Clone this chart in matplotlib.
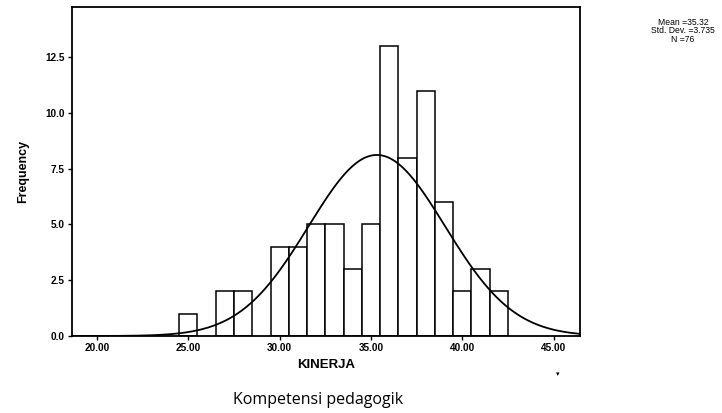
import numpy as np
import matplotlib.pyplot as plt

# ── Data ─────────────────────────────────────────────────────────────
scores = [25, 27, 28, 30, 31, 32, 33, 34, 35, 36, 37, 38, 39, 40, 41, 42]
counts = [1, 2, 2, 4, 4, 5, 5, 3, 5, 13, 8, 11, 6, 2, 3, 2]
mean_val = 35.32
std_val = 3.735
n_val = 76
xticks = [20, 25, 30, 35, 40, 45]
yticks = [0.0, 2.5, 5.0, 7.5, 10.0, 12.5]

plt.rcParams["font.family"] = ["Liberation Sans", "DejaVu Sans"]

fig = plt.figure(figsize=(7.22, 4.13), dpi=100)
fig.patch.set_facecolor("white")
ax = fig.add_axes([0.0997, 0.1864, 0.7033, 0.7966])

ax.bar(scores, counts, width=1.0, color="white", edgecolor="black",
       linewidth=1.1, zorder=2)

# fitted normal curve (bin width 1)
xs = np.linspace(18.63, 46.43, 400)
pdf = n_val / (std_val * np.sqrt(2 * np.pi)) * np.exp(-0.5 * ((xs - mean_val) / std_val) ** 2)
ax.plot(xs, pdf, color="black", linewidth=1.3, zorder=3)

ax.set_xlim(18.63, 46.43)
ax.set_ylim(0, 14.75)
ax.set_xticks(xticks)
ax.set_xticklabels([f"{v:.2f}" for v in xticks])
ax.set_yticks(yticks)
ax.set_yticklabels([f"{v:.1f}" for v in yticks])
ax.tick_params(axis="both", labelsize=7.2, length=3, width=1, pad=2)
for lab in ax.get_xticklabels() + ax.get_yticklabels():
    lab.set_fontweight("bold")
for sp in ax.spines.values():
    sp.set_linewidth(1.3)

ax.set_xlabel("KINERJA", fontsize=9.5, fontweight="bold", labelpad=4)
ax.set_ylabel("Frequency", fontsize=9, fontweight="bold", labelpad=12)

fig.text(0.946, 0.925, f"Mean ={mean_val:.2f}\nStd. Dev. ={std_val:.3f}\nN ={n_val}",
         ha="center", va="center", fontsize=6.2, linespacing=0.9)
fig.text(0.44, 0.032, "Kompetensi pedagogik", ha="center", va="center",
         fontsize=11.5, family=["Open Sans", "DejaVu Sans"])
fig.text(0.772, 0.092, "\u25be", ha="center", va="center", fontsize=5)

plt.savefig("out.png", dpi=100, facecolor="white")
